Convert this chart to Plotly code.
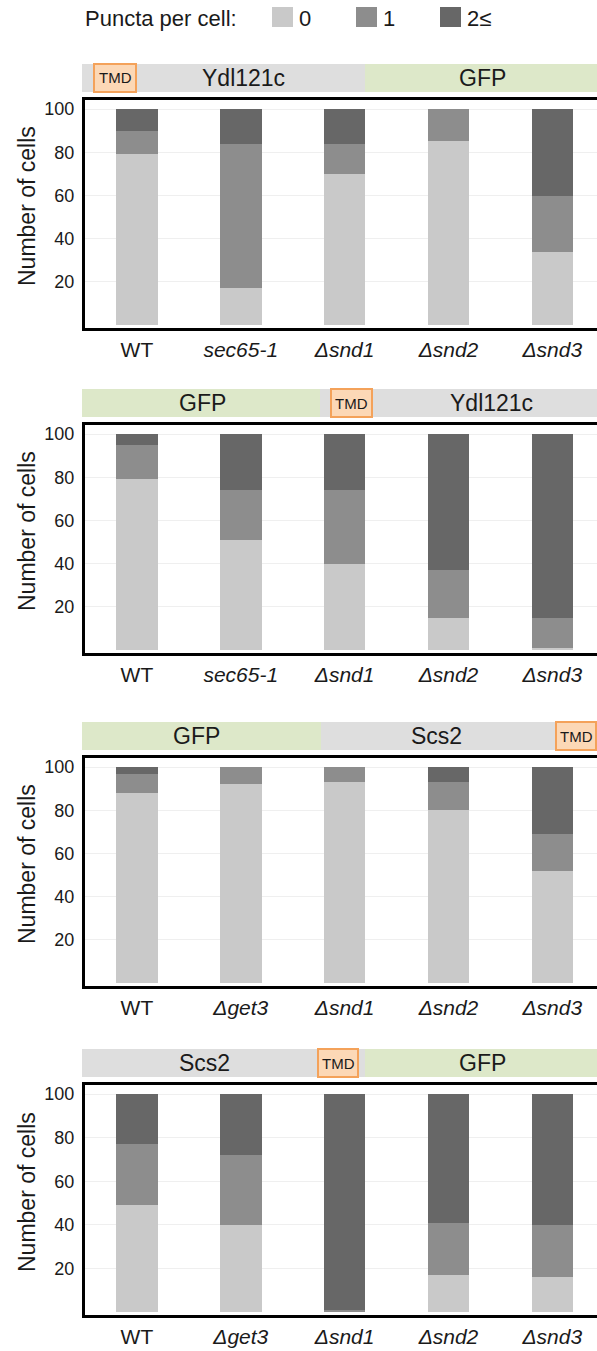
import plotly.graph_objects as go

# The figure fills the whole 597x1351 window; a tiny post-script removes the
# default 8px body margin and prevents scrollbars.
W, H = 597, 1351

# ---- data ----
cats_a = ["WT", "sec65-1", "Δsnd1", "Δsnd2", "Δsnd3"]
cats_b = ["WT", "Δget3", "Δsnd1", "Δsnd2", "Δsnd3"]
ticks_a = ["WT", "<i>sec65-1</i>", "<i>Δsnd1</i>", "<i>Δsnd2</i>", "<i>Δsnd3</i>"]
ticks_b = ["WT", "<i>Δget3</i>", "<i>Δsnd1</i>", "<i>Δsnd2</i>", "<i>Δsnd3</i>"]

p1_zero = [79, 17, 70, 85, 34]
p1_one = [11, 67, 14, 15, 26]
p1_two = [10, 16, 16, 0, 40]

p2_zero = [79, 51, 40, 15, 1]
p2_one = [16, 23, 34, 22, 14]
p2_two = [5, 26, 26, 63, 85]

p3_zero = [88, 92, 93, 80, 52]
p3_one = [9, 8, 7, 13, 17]
p3_two = [3, 0, 0, 7, 31]

p4_zero = [49, 40, 0, 17, 16]
p4_one = [28, 32, 1, 24, 24]
p4_two = [23, 28, 99, 59, 60]

series_names = ["0", "1", "2≤"]
y_ticks = [20, 40, 60, 80, 100]

# ---- style ----
C_BARS = ["#c9c9c9", "#8d8d8d", "#676767"]
C_GRAY = "#dedede"
C_GREEN = "#dde8c9"
C_TMD_FILL = "#fcd8b6"
C_TMD_LINE = "#f4a25a"
FONT = "Liberation Sans, Arial, Helvetica, sans-serif"
TXT = "#1a1a1a"


def px(x):
    return x / W


def py(y):
    return 1 - y / H


panels = [
    dict(top=100, bottom=328, cats=cats_a, ticks=ticks_a, vals=[p1_zero, p1_one, p1_two],
         cy=(64, 92),
         segs=[(82, 365, C_GRAY, "Ydl121c", 244), (365, 597, C_GREEN, "GFP", 483)],
         tmd=(94, 136)),
    dict(top=425, bottom=653, cats=cats_a, ticks=ticks_a, vals=[p2_zero, p2_one, p2_two],
         cy=(389, 417),
         segs=[(82, 320, C_GREEN, "GFP", 202), (320, 597, C_GRAY, "Ydl121c", 491)],
         tmd=(331, 372)),
    dict(top=758, bottom=986, cats=cats_b, ticks=ticks_b, vals=[p3_zero, p3_one, p3_two],
         cy=(722, 750),
         segs=[(82, 321, C_GREEN, "GFP", 196), (321, 597, C_GRAY, "Scs2", 436)],
         tmd=(556, 596)),
    dict(top=1085, bottom=1315, cats=cats_b, ticks=ticks_b, vals=[p4_zero, p4_one, p4_two],
         cy=(1049, 1077),
         segs=[(82, 365, C_GRAY, "Scs2", 204), (365, 597, C_GREEN, "GFP", 482)],
         tmd=(318, 358)),
]

fig = go.Figure()
shapes = []
annotations = []
layout = {}

PLOT_LEFT = 85
for i, p in enumerate(panels):
    n = "" if i == 0 else str(i + 1)
    xa, ya = "x" + n, "y" + n
    for k in range(3):
        fig.add_trace(go.Bar(
            x=p["cats"], y=p["vals"][k], name=series_names[k],
            marker=dict(color=C_BARS[k], line=dict(width=0)),
            width=0.4, xaxis=xa, yaxis=ya, showlegend=False,
        ))
    layout["xaxis" + n] = dict(
        domain=[px(PLOT_LEFT), 1.0], anchor=ya, type="category",
        categoryorder="array", categoryarray=p["cats"],
        tickvals=p["cats"], ticktext=p["ticks"],
        range=[-0.5, 4.43], showline=True, linecolor="black", linewidth=3,
        mirror=True, showgrid=False, zeroline=False,
        ticks="outside", ticklen=1, tickcolor="rgba(0,0,0,0)",
        tickfont=dict(family=FONT, size=21, color=TXT),
    )
    layout["yaxis" + n] = dict(
        domain=[py(p["bottom"]), py(p["top"])], anchor=xa,
        range=[-1.3, 104.2], tickvals=y_ticks,
        showline=True, linecolor="black", linewidth=3, mirror=False,
        showgrid=True, gridcolor="#efefef", gridwidth=1, zeroline=False,
        ticks="outside", ticklen=4, tickcolor="rgba(0,0,0,0)",
        tickfont=dict(family=FONT, size=18, color=TXT),
    )
    annotations.append(dict(
        text="Number of cells", textangle=-90, showarrow=False,
        xref="paper", yref="paper", x=px(27), y=py((p["top"] + p["bottom"]) / 2 - 8),
        xanchor="center", yanchor="middle",
        font=dict(family=FONT, size=23, color=TXT),
    ))
    # construct bar
    y0, y1 = p["cy"]
    for (a, b, col, lab, tx) in p["segs"]:
        shapes.append(dict(type="rect", xref="paper", yref="paper",
                           x0=px(a), x1=px(b), y0=py(y1), y1=py(y0),
                           fillcolor=col, line=dict(width=0), layer="above"))
        annotations.append(dict(text=lab, showarrow=False, xref="paper", yref="paper",
                                x=px(tx), y=py((y0 + y1) / 2), xanchor="center", yanchor="middle",
                                font=dict(family=FONT, size=23, color=TXT)))
    ta, tb = p["tmd"]
    shapes.append(dict(type="rect", xref="paper", yref="paper",
                       x0=px(ta), x1=px(tb), y0=py(y1), y1=py(y0),
                       fillcolor=C_TMD_FILL, line=dict(color=C_TMD_LINE, width=2), layer="above"))
    annotations.append(dict(text="TMD", showarrow=False, xref="paper", yref="paper",
                            x=px((ta + tb) / 2), y=py((y0 + y1) / 2), xanchor="center", yanchor="middle",
                            font=dict(family=FONT, size=15, color=TXT)))

# legend (manual)
LEG_Y = 18
annotations.append(dict(text="Puncta per cell:", showarrow=False, xref="paper", yref="paper",
                        x=px(83), y=py(LEG_Y), xanchor="left", yanchor="middle",
                        font=dict(family=FONT, size=22, color=TXT)))
leg_x = [272, 356, 440]
for k in range(3):
    shapes.append(dict(type="rect", xref="paper", yref="paper",
                       x0=px(leg_x[k]), x1=px(leg_x[k] + 21), y0=py(LEG_Y + 9), y1=py(LEG_Y - 11),
                       fillcolor=C_BARS[k], line=dict(width=0)))
    annotations.append(dict(text=series_names[k], showarrow=False, xref="paper", yref="paper",
                            x=px(leg_x[k] + 25), y=py(LEG_Y), xanchor="left", yanchor="middle",
                            font=dict(family=FONT, size=22, color=TXT)))

fig.update_layout(
    width=W, height=H, margin=dict(l=0, r=0, t=0, b=0),
    paper_bgcolor="white", plot_bgcolor="white",
    barmode="stack", bargap=0.6,
    shapes=shapes, annotations=annotations, showlegend=False,
)
fig.update_layout(**layout)

fig.write_html(
    "out.html",
    config={"displayModeBar": False, "staticPlot": True},
    post_script=("document.body.style.margin='0px';"
                 "document.body.style.overflow='hidden';"
                 "document.documentElement.style.overflow='hidden';"),
)
